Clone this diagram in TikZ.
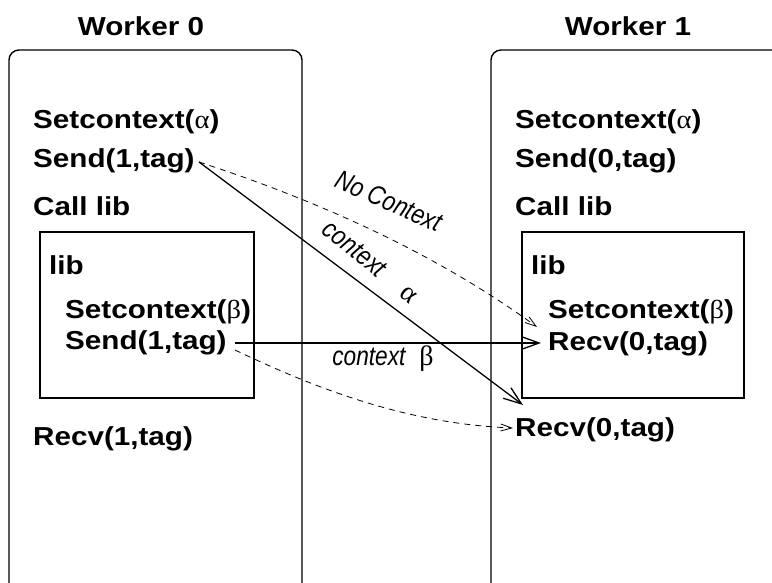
\documentclass[tikz,border=0pt]{standalone}
\usepackage{fontspec}
\setmainfont{Liberation Sans}[FakeStretch=1.14]
\newfontfamily\grk{Liberation Serif}[FakeStretch=1.1]
\newfontfamily\lblfont{Liberation Sans}[FakeStretch=0.84]
\newfontfamily\lblgrk{Liberation Serif}
\usetikzlibrary{arrows.meta}
\begin{document}
\begin{tikzpicture}[x=1pt,y=-1pt,
  txt/.style={anchor=base west,inner sep=0pt,font=\fontsize{26}{30}\selectfont\bfseries},
  hd/.style={anchor=base,inner sep=0pt,font=\fontsize{26}{30}\selectfont\bfseries},
  lbl/.style={inner sep=0pt,font=\fontsize{27}{30}\selectfont\lblfont\itshape},
  worker/.style={draw,line width=1.4pt,rounded corners=10pt},
  libbox/.style={draw,line width=1.4pt},
  msg/.style={line width=1.3pt,-{Straight Barb[length=18pt,width=13pt]}},
  nomsg/.style={line width=0.8pt,dash pattern=on 6pt off 5pt,-{Straight Barb[length=11pt,width=7pt]}}]
\clip (0,0) rectangle (772,583);
\fill[white] (0,0) rectangle (772,583);
% worker boxes
\draw[worker] (9,50) rectangle (302,600);
\draw[worker] (491,50) rectangle (800,600);
\node[hd] (w0) at (141,36) {Worker 0};
\node[hd] (w1) at (628,36) {Worker 1};
% worker 0
\node[txt] (a0) at (33,129) {Setcontext({\grk\mdseries α})};
\node[txt] (s0) at (33,168) {Send(1,tag)};
\node[txt] (c0) at (33,216) {Call lib};
\draw[libbox] (40,232) rectangle (254,398);
\node[txt] (l0) at (49,274) {lib};
\node[txt] (b0) at (65,318) {Setcontext({\grk\mdseries β})};
\node[txt] (t0) at (65,349) {Send(1,tag)};
\node[txt] (r0) at (33,445) {Recv(1,tag)};
% worker 1
\node[txt] (a1) at (515,129) {Setcontext({\grk\mdseries α})};
\node[txt] (s1) at (515,168) {Send(0,tag)};
\node[txt] (c1) at (515,216) {Call lib};
\draw[libbox] (522,232) rectangle (744,398);
\node[txt] (l1) at (531,274) {lib};
\node[txt] (b1) at (548,318) {Setcontext({\grk\mdseries β})};
\node[txt] (t1) at (548,350) {Recv(0,tag)};
\node[txt] (r1) at (515,436) {Recv(0,tag)};
% endpoints
\coordinate (p1) at (199,162);
\coordinate (p2) at (235,343);
\coordinate (p3) at (235,350);
\coordinate (q1) at (523,405);
\coordinate (q2) at (537,327);
\coordinate (q3) at (541,343);
\coordinate (q4) at (513,428);
% messages
\draw[msg] (p1) -- (q1);
\draw[msg] (p2) -- (q3);
\draw[nomsg] (p1) .. controls (319,201) and (437,254) .. (q2);
\draw[nomsg] (p3) .. controls (325,393) and (413,424) .. (q4);
% labels
\node[lbl,rotate=-24] (nc) at (389,201) {No Context};
\node[lbl,rotate=-39] (ca) at (371,262) {context\hspace{27pt}{\fontsize{28}{30}\selectfont\lblgrk\upshape α}};
\node[lbl,anchor=base] (cb) at (383,365) {context\hspace{14pt}{\fontsize{28}{30}\selectfont\lblgrk\upshape β}};
\end{tikzpicture}
\end{document}
